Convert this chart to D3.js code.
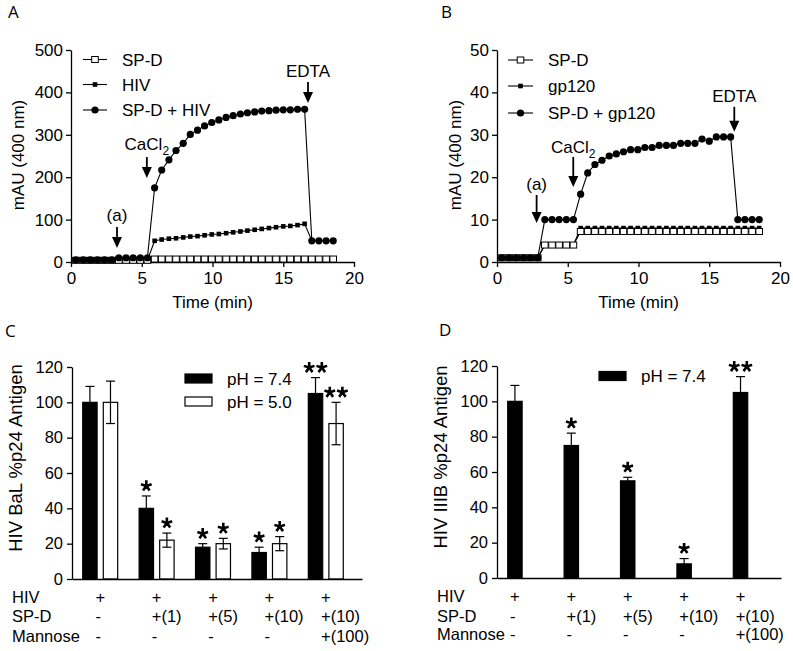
<!DOCTYPE html>
<html><head><meta charset="utf-8">
<script src="https://cdn.jsdelivr.net/npm/d3@7"></script>
<style>body{margin:0;background:#fff} svg{display:block}</style>
</head><body><svg id="c" width="793" height="651"></svg>
<script>
// ---------- DATA ----------
const time = [0.35,0.86,1.36,1.87,2.37,2.88,3.38,3.89,4.39,4.90,5.40,5.91,6.41,6.92,7.42,7.93,8.43,8.94,9.44,9.95,10.45,10.96,11.46,11.97,12.47,12.98,13.48,13.99,14.49,15.00,15.50,16.01,16.51,17.02,17.52,18.03,18.53];
// Panel A
const spdA    = [4,4,4,4,4,4,4,4,4,4,4, 7,7,7,7,7,7,7,7,7,7,7,7,7,7,7,7,7,7,7,7,7,7, 7,7,7,7];
const hivA    = [4,4,4,4,4,4,4,4,4,4,4, 50,53,55,56,58,60,61,63,65,66,68,70,72,74,76,78,80,82,84,85,87,90, 50,50,50,50];
const spdHivA = [5,5,5,5,5,5,10,10,10,10,10, 175,217,241,263,280,301,311,321,329,335,341,345,349,352,354,356,357,358,359,359,360,360, 50,50,50,50];
// Panel B
const spdB    = [1,1,1,1,1,1,4,4,4,4,4, 7.2,7.2,7.2,7.2,7.2,7.2,7.2,7.2,7.2,7.2,7.2,7.2,7.2,7.2,7.2,7.2,7.2,7.2,7.2,7.2,7.2,7.2, 7.2,7.2,7.2,7.2];
const gp120B  = [1,1,1,1,1,1,4,4,4,4,4, 8,8,8,8,8,8,8,8,8,8,8,8,8,8,8,8,8,8,8,8,8,8, 8,8,8,8];
const spdGpB  = [1,1,1,1,1,1,10,10,10,10,10, 16,21,23,24,25,25.5,26,26.5,26.5,27,27,27.5,27.5,27.5,28,28,28,29,28.5,29.5,29.5,29.5, 10,10,10,10];
const yTicksA = [0,100,200,300,400,500];
const yTicksB = [0,10,20,30,40,50];
const xTicksAB = [0,5,10,15,20];
// Panels C / D
const groups = ["g1","g2","g3","g4","g5"];
const rowHIV = ["+","+","+","+","+"];
const rowSPD = ["-","+(1)","+(5)","+(10)","+(10)"];
const rowMan = ["-","-","-","-","+(100)"];
const c74 = [100,40,18,15,105];
const c74err = [9,7,2,3,9];
const c74sig = ["","*","*","*","**"];
const c50 = [100,22,20,20,88];
const c50err = [12,4,3,4,12];
const c50sig = ["","*","*","*","**"];
const d74 = [100,75,55,8,105];
const d74err = [9,7,2,3,9];
const d74sig = ["","*","*","*","**"];
const yTicksCD = [0,20,40,60,80,100,120];

// ---------- LAYOUT ----------
const FONT = "'Liberation Sans', Arial, Helvetica, sans-serif";
const svg = d3.select("#c");

function styleAxis(g, fs){
  g.attr("font-family", FONT).attr("font-size", fs);
  g.selectAll("path, line").attr("stroke","#000").attr("stroke-width",1.3);
  g.selectAll("text").attr("fill","#000");
}
function txt(x, y, s, fs, anchor, fam){
  return svg.append("text").attr("x",x).attr("y",y).attr("font-family",fam||FONT)
    .attr("font-size",fs).attr("text-anchor",anchor||"start").attr("fill","#000").text(s);
}
function panelLetter(x,y,s){ txt(x,y,s,17,"start","'Open Sans', 'DejaVu Sans', sans-serif"); }

function marker(g, type, cx, cy){
  if(type==="circle") g.append("circle").attr("cx",cx).attr("cy",cy).attr("r",3.6).attr("fill","#000");
  else if(type==="open") g.append("rect").attr("x",cx-3.3).attr("y",cy-3.0).attr("width",6.6).attr("height",6.0)
      .attr("fill","#fff").attr("stroke","#000").attr("stroke-width",1);
  else g.append("rect").attr("x",cx-2.3).attr("y",cy-2.3).attr("width",4.6).attr("height",4.6).attr("fill","#000");
}
function series(x, y, vals, type){
  const g = svg.append("g");
  const line = d3.line().x((d,i)=>x(time[i])).y(d=>y(d));
  g.append("path").attr("d",line(vals)).attr("fill","none").attr("stroke","#000").attr("stroke-width",1.1);
  vals.forEach((v,i)=>marker(g,type,x(time[i]),y(v)));
}
function arrow(x, y, a){
  const cx = x(a.t), tip = y(a.v), tail = tip - a.len;
  svg.append("line").attr("x1",cx).attr("x2",cx).attr("y1",tail).attr("y2",tip-9).attr("stroke","#000").attr("stroke-width",1.8);
  svg.append("path").attr("d",`M${cx-5},${tip-11}L${cx+5},${tip-11}L${cx},${tip}Z`).attr("fill","#000");
  const t = svg.append("text").attr("x",cx).attr("y",tail-a.gap).attr("text-anchor","middle")
    .attr("font-family",FONT).attr("font-size",17).attr("fill","#000");
  if(a.label==="CaCl2"){ t.append("tspan").text("CaCl"); t.append("tspan").attr("font-size",12).attr("dy",5).text("2"); }
  else t.text(a.label);
}
function legendRow(x0, x1, tx, y, type, label){
  svg.append("line").attr("x1",x0).attr("x2",x1).attr("y1",y).attr("y2",y).attr("stroke","#000").attr("stroke-width",1.1);
  marker(svg, type, (x0+x1)/2, y);
  txt(tx, y+6, label, 17);
}

function timePanel(opt){
  const x = d3.scaleLinear().domain([0,20]).range([opt.x0, opt.x0+283]);
  const y = d3.scaleLinear().domain([0,opt.ymax]).range([262,50]);
  styleAxis(svg.append("g").attr("transform","translate(0,262)")
    .call(d3.axisBottom(x).tickValues(xTicksAB).tickSize(5).tickSizeOuter(0).tickPadding(5)), 17);
  styleAxis(svg.append("g").attr("transform",`translate(${opt.x0},0)`)
    .call(d3.axisLeft(y).tickValues(opt.yticks).tickSize(5).tickSizeOuter(0).tickPadding(3)), 17);
  txt(opt.x0+141.5, 308, "Time (min)", 17, "middle");
  svg.append("text").attr("transform",`translate(${opt.ylabX},155) rotate(-90)`).attr("text-anchor","middle")
    .attr("font-family",FONT).attr("font-size",17).attr("fill","#000").text("mAU (400 nm)");
  opt.series.forEach(s=>series(x,y,s.vals,s.type));
  opt.arrows.forEach(a=>arrow(x,y,a));
  opt.legend.forEach((l,i)=>legendRow(opt.lx0,opt.lx1,opt.ltx,opt.lrows[i],l.type,l.label));
}

timePanel({x0:71, ymax:500, yticks:yTicksA, ylabX:24,
  series:[{vals:hivA,type:"filled"},{vals:spdA,type:"open"},{vals:spdHivA,type:"circle"}],
  arrows:[{t:3.25,v:33,len:21,gap:6,label:"(a)"},{t:5.36,v:198,len:21,gap:7,label:"CaCl2"},{t:16.75,v:375,len:21,gap:5,label:"EDTA"}],
  legend:[{type:"open",label:"SP-D"},{type:"filled",label:"HIV"},{type:"circle",label:"SP-D + HIV"}],
  lx0:83, lx1:107, ltx:122, lrows:[59.5,84.5,110]});
timePanel({x0:497, ymax:50, yticks:yTicksB, ylabX:461,
  series:[{vals:gp120B,type:"filled"},{vals:spdB,type:"open"},{vals:spdGpB,type:"circle"}],
  arrows:[{t:2.8,v:9.2,len:28,gap:5,label:"(a)"},{t:5.39,v:17.7,len:30,gap:4,label:"CaCl2"},{t:16.77,v:30.7,len:25,gap:5,label:"EDTA"}],
  legend:[{type:"open",label:"SP-D"},{type:"filled",label:"gp120"},{type:"circle",label:"SP-D + gp120"}],
  lx0:508, lx1:533, ltx:548, lrows:[60,86,113]});

panelLetter(8,18,"A"); panelLetter(441,18,"B"); panelLetter(5,337,"C"); panelLetter(439,336,"D");

// star glyph
function star(cx, cy){
  let d="";
  for(let k=0;k<5;k++){const a=(-90+72*k)*Math.PI/180; d+=`M${cx},${cy}L${(cx+5.6*Math.cos(a)).toFixed(2)},${(cy+5.6*Math.sin(a)).toFixed(2)}`;}
  svg.append("path").attr("d",d).attr("stroke","#000").attr("stroke-width",2.6).attr("fill","none");
}
function sig(cx, cy, s){
  if(s==="*") star(cx,cy);
  else if(s==="**"){ star(cx-6.3,cy); star(cx+6.3,cy); }
}
function bar(x, w, yScale, v, e, fill, s){
  const y0 = yScale(0), yv = yScale(v), ye = yScale(v+e);
  const cx = x + w/2;
  if(fill==="#fff"){
    svg.append("line").attr("x1",cx).attr("x2",cx).attr("y1",yScale(v-e)).attr("y2",ye).attr("stroke","#000").attr("stroke-width",1.2);
    svg.append("line").attr("x1",cx-4.5).attr("x2",cx+4.5).attr("y1",yScale(v-e)).attr("y2",yScale(v-e)).attr("stroke","#000").attr("stroke-width",1.2);
  } else {
    svg.append("line").attr("x1",cx).attr("x2",cx).attr("y1",yv).attr("y2",ye).attr("stroke","#000").attr("stroke-width",1.2);
  }
  svg.append("line").attr("x1",cx-4.5).attr("x2",cx+4.5).attr("y1",ye).attr("y2",ye).attr("stroke","#000").attr("stroke-width",1.2);
  svg.append("rect").attr("x",x).attr("y",yv).attr("width",w).attr("height",y0-yv)
    .attr("fill",fill==="#fff"?"none":"#000").attr("stroke","#000").attr("stroke-width",1.2);
  sig(cx, ye-10, s);
}
function tableRows(lx, centers, base){
  const rows=[["HIV",rowHIV],["SP-D",rowSPD],["Mannose",rowMan]];
  rows.forEach((r,i)=>{
    txt(lx, base[i], r[0], 16.5);
    r[1].forEach((s,j)=>txt(centers[j]-4.8, base[i], s, 16.5));
  });
}
function barPanel(opt){
  const xb = d3.scaleBand().domain(groups).range([opt.x0, opt.x0+282]).paddingInner(0.38).paddingOuter(0.19);
  const sub = d3.scaleBand().domain(["7.4","5.0"]).range([0, xb.bandwidth()]).paddingInner(0.3);
  const y = d3.scaleLinear().domain([0,120]).range([opt.yb, opt.yb-212]);
  styleAxis(svg.append("g").attr("transform",`translate(${opt.x0},0)`)
    .call(d3.axisLeft(y).tickValues(yTicksCD).tickSize(5).tickSizeOuter(0).tickPadding(4)), 16.5);
  styleAxis(svg.append("g").attr("transform",`translate(0,${opt.yb})`)
    .call(d3.axisBottom(d3.scaleLinear().range([opt.x0, opt.x0+opt.xlen])).tickValues([]).tickSizeOuter(0)), 16);
  svg.append("text").attr("transform",`translate(${opt.x0-50},${opt.yb-121}) rotate(-90)`).attr("text-anchor","middle")
    .attr("font-family",FONT).attr("font-size",18.5).attr("fill","#000").text(opt.ylabel);
  groups.forEach((g,i)=>{
    opt.sets.forEach(s=>bar(xb(g)+sub(s.key), sub.bandwidth(), y, s.vals[i], s.err[i], s.fill, s.sig[i]));
  });
  const centers = groups.map(g=>opt.centerOnBar ? xb(g)+sub("7.4")+sub.bandwidth()/2 : xb(g)+xb.bandwidth()/2);
  tableRows(opt.x0-60, centers, opt.rowsY);
  opt.legend.forEach((l,i)=>{
    svg.append("rect").attr("x",opt.lx).attr("y",opt.ly[i]-4.5).attr("width",27).attr("height",9)
      .attr("fill",l.fill).attr("stroke","#000").attr("stroke-width",1.2);
    txt(opt.lx+42, opt.ly[i]+6, l.label, 17);
  });
}
barPanel({x0:72, yb:579, xlen:290, ylabel:"HIV BaL %p24 Antigen",
  sets:[{key:"7.4",vals:c74,err:c74err,sig:c74sig,fill:"#000"},{key:"5.0",vals:c50,err:c50err,sig:c50sig,fill:"#fff"}],
  centerOnBar:false, rowsY:[603,622,642],
  legend:[{fill:"#000",label:"pH = 7.4"},{fill:"#fff",label:"pH = 5.0"}], lx:185, ly:[378.5,401.5]});
barPanel({x0:497, yb:578, xlen:284, ylabel:"HIV IIIB %p24 Antigen",
  sets:[{key:"7.4",vals:d74,err:d74err,sig:d74sig,fill:"#000"}],
  centerOnBar:true, rowsY:[602,622,640],
  legend:[{fill:"#000",label:"pH = 7.4"}], lx:599, ly:[376]});
</script>
</body></html>
